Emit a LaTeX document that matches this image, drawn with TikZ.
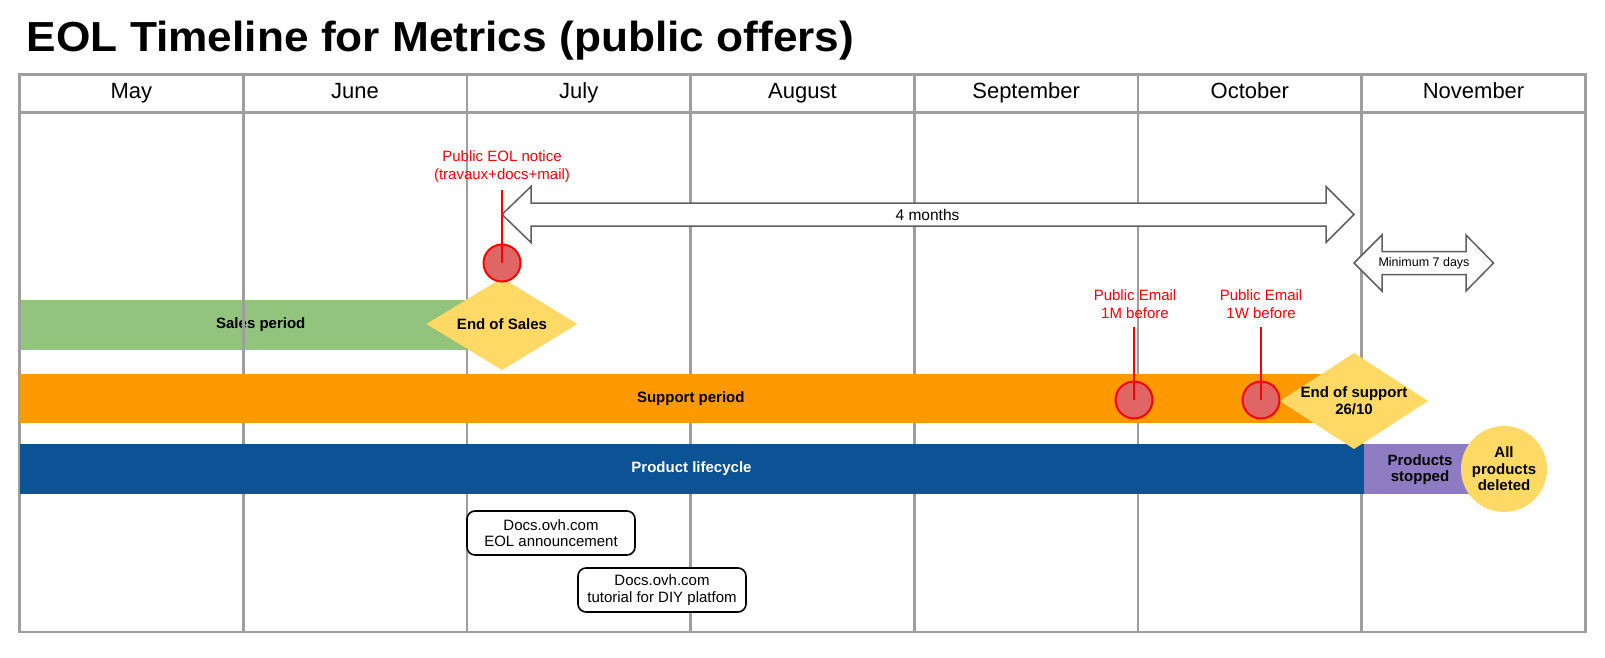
\documentclass[tikz,border=0pt]{standalone}
\usepackage{fontspec}
\setmainfont{Liberation Sans}
\usepackage{graphicx}
\usetikzlibrary{shapes.geometric}
\definecolor{gridgray}{HTML}{9E9E9E}
\definecolor{salesgreen}{HTML}{93C47D}
\definecolor{suporange}{HTML}{FF9900}
\definecolor{lifeblue}{HTML}{0B5394}
\definecolor{stoppurple}{HTML}{8E7CC3}
\definecolor{milestone}{HTML}{FFD966}
\definecolor{markred}{HTML}{E06666}
\definecolor{arrowgray}{HTML}{5F5F5F}
\tikzset{
  gridline/.style={draw=gridgray, line width=2.6pt},
  bar/.style={rectangle, inner sep=0pt, outer sep=0pt},
  bartext/.style={font=\fontsize{15}{16.6}\selectfont\bfseries, align=center},
  milestoneshape/.style={diamond, fill=milestone, inner sep=0pt, outer sep=0pt},
  marker/.style={circle, fill=markred, draw=red, line width=2pt, minimum size=37, inner sep=0pt},
  redlabel/.style={text=red, font=\fontsize{15}{18}\selectfont, align=center},
  redline/.style={draw=red, line width=2pt},
  docbox/.style={draw=black, line width=1.6pt, fill=white, rounded corners=8pt, minimum width=168, minimum height=44, align=center, font=\fontsize{15}{16.5}\selectfont, inner sep=0pt},
  monthlabel/.style={font=\fontsize{22}{26}\selectfont, anchor=base, inner sep=0pt},
  bigarrow/.style={draw=arrowgray, fill=white, line width=1.5pt, line join=miter},
}
\begin{document}
\begin{tikzpicture}[x=1pt, y=-1pt]
\useasboundingbox (0,0) rectangle (1605,658);
\fill[white] (0,0) rectangle (1605,658);

% title
\node[anchor=base west, inner sep=0pt] (title) at (26.7,51.7)
  {\scalebox{1.053}[1]{\fontsize{42}{46}\selectfont\bfseries EOL Timeline for Metrics (public offers)}};

% sales bar (under the grid)
\node[bar, fill=salesgreen, minimum width=482.5, minimum height=49.5, bartext] (sales) at (260.75,325) {Sales period};

% grid
\foreach \i in {1,...,6}
  \draw[gridline] ({19.5+\i*223.7},74.7) -- ({19.5+\i*223.7},632);
\draw[gridline] (19.5,112.6) -- (1585.4,112.6);
\draw[gridline] (19.5,74.7) rectangle (1585.4,632);
\foreach \m [count=\i from 0] in {May,June,July,August,September,October,November}
  \node[monthlabel] (month\i) at ({19.5+(\i+0.5)*223.7},99) {\m};

% bars
\node[bar, fill=suporange, minimum width=1342.5, minimum height=49, bartext] (support) at (690.75,398.5) {Support period};
\node[bar, fill=lifeblue, minimum width=1344, minimum height=50, bartext, text=white] (life) at (691.5,469) {Product lifecycle};
\node[bar, fill=stoppurple, minimum width=112.5, minimum height=50] (stopped) at (1419.75,469) {};
\node[bartext] (stoppedtext) at (1420,469.5) {Products\\stopped};
\node[circle, fill=milestone, minimum size=86, inner sep=0pt, bartext] (deleted) at (1504,469) {All\\products\\deleted};

% milestones
\node[milestoneshape, minimum width=151, minimum height=92] (eos) at (502,324) {};
\node[bartext] (eostext) at (eos.center) {End of Sales};
\node[milestoneshape, minimum width=148, minimum height=96] (eosup) at (1354,401) {};
\node[bartext] (eosuptext) at (eosup.center) {End of support\\26/10};

% big arrows
\draw[bigarrow] (502,214.5) -- (531,186.5) -- (531,203) -- (1326,203) -- (1326,186.5) -- (1354,214.5)
  -- (1326,242.5) -- (1326,226) -- (531,226) -- (531,242.5) -- cycle;
\node[font=\fontsize{15.5}{18}\selectfont] (fourmonths) at (927.5,215) {4 months};
\draw[bigarrow] (1354,263) -- (1382,235) -- (1382,251.5) -- (1466,251.5) -- (1466,235) -- (1493.5,263)
  -- (1466,291) -- (1466,274.5) -- (1382,274.5) -- (1382,291) -- cycle;
\node[font=\fontsize{12.5}{14}\selectfont] (minseven) at (1424,263) {Minimum 7 days};

% red markers
\node[marker] (eolmark) at (502,263) {};
\coordinate (eoltop) at (502,190);
\draw[redline] (eoltop) -- (eolmark.center);
\node[redlabel] (eollabel) at (502,167) {Public EOL notice\\(travaux+docs+mail)};

\node[marker] (monthmark) at (1134,400) {};
\coordinate (monthtop) at (1134,326.7);
\draw[redline] (monthtop) -- (monthmark.center);
\node[redlabel] (monthlabel) at (1135,303.7) {Public Email\\1M before};

\node[marker] (weekmark) at (1261,400) {};
\coordinate (weektop) at (1261,326.7);
\draw[redline] (weektop) -- (weekmark.center);
\node[redlabel] (weeklabel) at (1261,303.7) {Public Email\\1W before};

% docs boxes
\node[docbox] (doc1) at (551,533) {Docs.ovh.com\\EOL announcement};
\node[docbox] (doc2) at (662,590) {Docs.ovh.com\\tutorial for DIY platfom};
\end{tikzpicture}
\end{document}
